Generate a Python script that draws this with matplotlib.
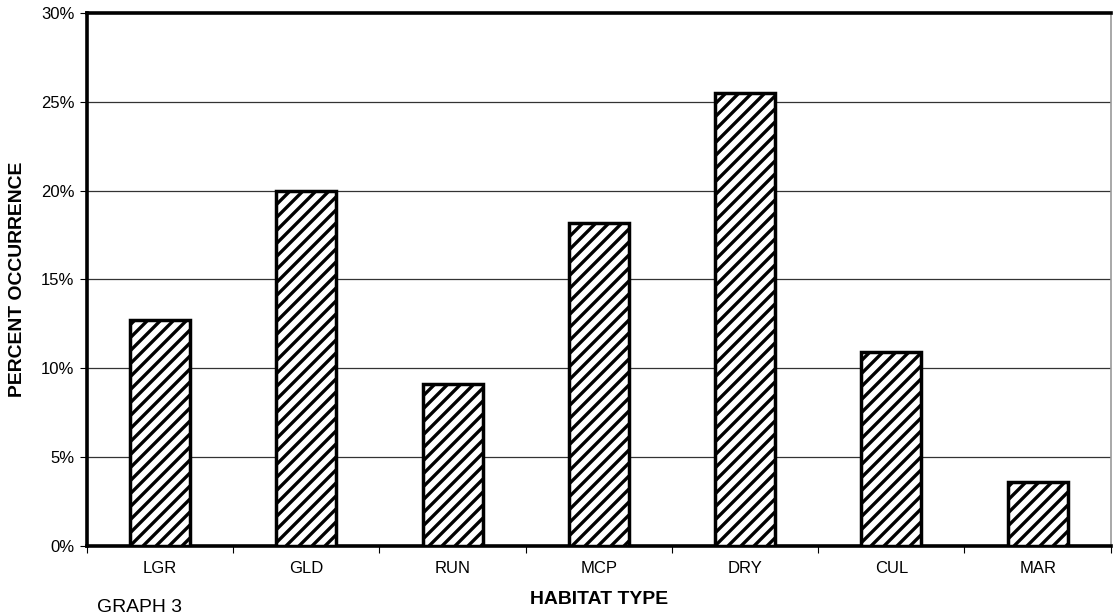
import matplotlib.pyplot as plt
import numpy as np

# el tamano del rayado depende del dpi, por eso se usa un dpi bajo
DPI = 78
S = 100 / DPI  # factor para escribir tamanos como si fuera dpi=100

plt.rcParams['font.family'] = ['Liberation Sans', 'DejaVu Sans']
plt.rcParams['hatch.linewidth'] = 2.4 * S

# Datos del grafico
habitats = ["LGR", "GLD", "RUN", "MCP", "DRY", "CUL", "MAR"]
percent = [12.7, 20.0, 9.1, 18.2, 25.5, 10.9, 3.6]
yticks = [0, 5, 10, 15, 20, 25, 30]
ytick_labels = ["0%", "5%", "10%", "15%", "20%", "25%", "30%"]

fig = plt.figure(figsize=(1113 / DPI, 616 / DPI), dpi=DPI)
ax = fig.add_axes([0.078, 0.114, 0.92, 0.865])

x = np.arange(len(habitats))
ax.bar(x, percent, width=0.41, color="white", edgecolor="black",
       linewidth=2.5 * S, hatch="//", zorder=3)

ax.set_xlim(-0.5, len(habitats) - 0.5)
ax.set_ylim(0, 30)
ax.set_yticks(yticks)
ax.set_yticklabels(ytick_labels, fontsize=12 * S)
for yv in yticks[1:-1]:
    ax.axhline(yv, color="#333333", linewidth=0.9 * S, zorder=1)

# marcas entre categorias
ax.set_xticks(np.arange(-0.5, len(habitats) + 0.5, 1))
ax.set_xticklabels([])
ax.set_xticks(x, minor=True)
ax.set_xticklabels(habitats, minor=True, fontsize=12 * S)
ax.tick_params(axis="x", which="major", length=5 * S, width=0.8 * S, direction="out")
ax.tick_params(axis="x", which="minor", length=0, pad=11 * S)
ax.tick_params(axis="y", length=5 * S, width=0.8 * S, direction="out", pad=4 * S)

for side in ["left", "top", "bottom"]:
    ax.spines[side].set_linewidth(2.6 * S)
ax.spines["right"].set_linewidth(1.2 * S)
ax.spines["right"].set_color("#999999")

ax.set_ylabel("PERCENT OCCURRENCE", fontsize=14 * S, fontweight="bold",
              labelpad=11 * S)
fig.text(0.538, 0.027, "HABITAT TYPE", fontsize=14 * S, fontweight="bold",
         ha="center", va="center")
fig.text(0.087, 0.027, "GRAPH 3", fontsize=14 * S, ha="left", va="top")

plt.savefig("out.png", dpi=DPI)
